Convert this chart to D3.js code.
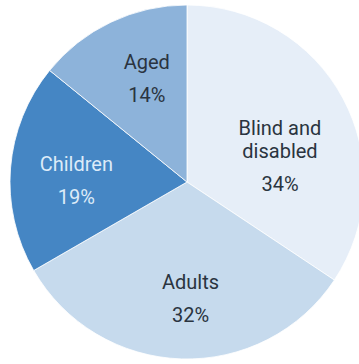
<!DOCTYPE html>
<html>
<head>
<meta charset="utf-8">
<script src="https://cdn.jsdelivr.net/npm/d3@7"></script>
<style>
  html, body { margin: 0; padding: 0; background: #fff; }
  text { font-family: Roboto, sans-serif; }
</style>
</head>
<body>
<div id="chart"></div>
<script>
// data
const categories = ["Blind and disabled", "Adults", "Children", "Aged"];
const shares = [34, 32, 19, 14];
const labelLines = [["Blind and", "disabled"], ["Adults"], ["Children"], ["Aged"]];

const colors = ["#e6eef8", "#c6daed", "#4586c4", "#8db3da"];
const textColors = ["#2a3440", "#2a3440", "#dcebf8", "#2a3440"];
// small nudges so labels sit where the original has them
const nudge = [[-4, 35], [7, 4], [-1, 5], [7, -7]];

const width = 359, height = 364;
const cx = 187, cy = 182, radius = 177;

const svg = d3.select("#chart").append("svg")
    .attr("width", width)
    .attr("height", height);

const g = svg.append("g")
    .attr("transform", "translate(" + cx + "," + cy + ")");

const pie = d3.pie().sort(null).value(d => d);
const arcs = pie(shares);

const arc = d3.arc().innerRadius(0).outerRadius(radius);
const labelArc = d3.arc().innerRadius(110).outerRadius(110);

g.selectAll("path")
    .data(arcs)
    .enter().append("path")
    .attr("d", arc)
    .attr("fill", (d, i) => colors[i])
    .attr("stroke", "#fff")
    .attr("stroke-width", 0.8);

const labels = g.selectAll(".label")
    .data(arcs)
    .enter().append("text")
    .attr("class", "label")
    .attr("text-anchor", "middle")
    .attr("font-size", 20)
    .attr("fill", (d, i) => textColors[i])
    .attr("transform", (d, i) => {
        const c = labelArc.centroid(d);
        return "translate(" + (c[0] + nudge[i][0]) + "," + (c[1] + nudge[i][1]) + ")";
    });

labels.each(function (d, i) {
    const t = d3.select(this);
    const lines = labelLines[i];
    // first line sits above the centre, percent line below
    const top = -(lines.length) * 23 + 16;
    lines.forEach((ln, j) => {
        t.append("tspan").attr("x", 0).attr("y", top + j * 23).text(ln);
    });
    t.append("tspan").attr("x", 0).attr("y", top + (lines.length - 1) * 23 + 33)
        .text(shares[i] + "%");
});
</script>
</body>
</html>
